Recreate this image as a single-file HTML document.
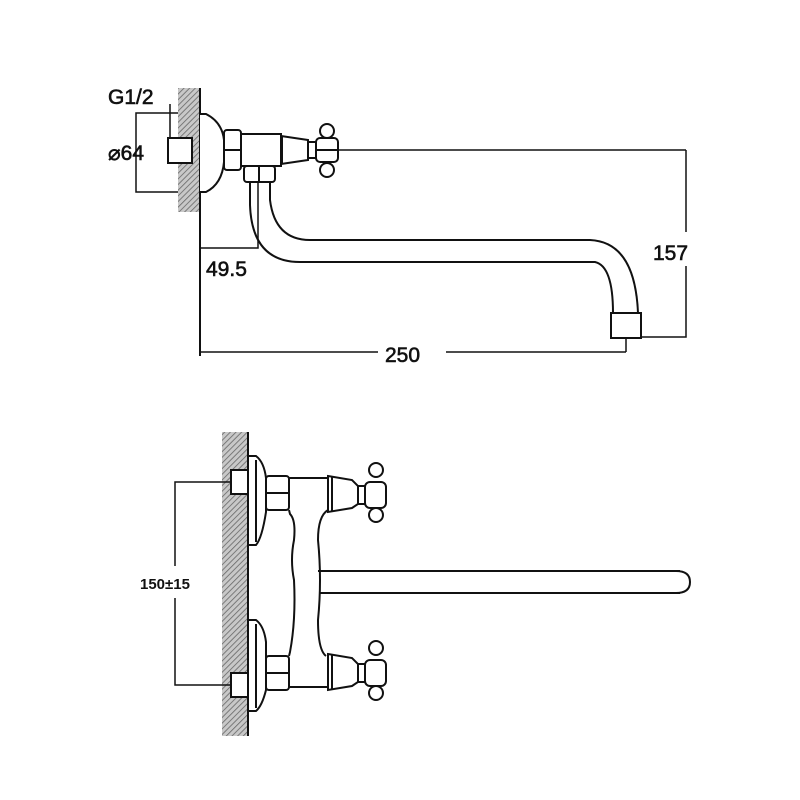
<!DOCTYPE html>
<html><head><style>html,body{margin:0;padding:0;background:#fff}svg{display:block}</style></head><body>
<svg width="800" height="800" viewBox="0 0 800 800" xmlns="http://www.w3.org/2000/svg" font-family="Liberation Sans, sans-serif">
<defs>
<pattern id="h" width="4" height="4" patternUnits="userSpaceOnUse" patternTransform="rotate(45)">
<rect width="4" height="4" fill="#c8c8c8"/><line x1="0" y1="0" x2="0" y2="4" stroke="#666" stroke-width="1.6"/>
</pattern>
</defs>
<g stroke="#111" stroke-width="2" fill="none">
<rect x="178" y="88" width="22" height="124" fill="url(#h)" stroke="none"/>
<line x1="200" y1="88" x2="200" y2="356"/>
<polyline points="178,113 136,113 136,192 178,192" stroke-width="1.5"/>
<line x1="170" y1="104" x2="170" y2="163" stroke-width="1.5"/>
<rect x="168" y="138" width="24" height="25" fill="#fff"/>
<line x1="200" y1="150" x2="686" y2="150" stroke-width="1.5"/>
<line x1="686" y1="150" x2="686" y2="232" stroke-width="1.5"/>
<polyline points="686,266 686,337 641,337" stroke-width="1.5"/>
<line x1="200" y1="352" x2="378" y2="352" stroke-width="1.5"/>
<line x1="446" y1="352" x2="626" y2="352" stroke-width="1.5"/>
<line x1="626" y1="338" x2="626" y2="352" stroke-width="1.5"/>
<polyline points="200,248 258,248 258,180" stroke-width="1.5"/>
<path d="M200,114 L206,114 Q222,122 224,140 L224,162 Q222,184 206,192 L200,192" fill="#fff"/>
<rect x="224" y="130" width="17" height="40" rx="3" fill="#fff"/>
<line x1="224" y1="150" x2="241" y2="150"/>
<rect x="241" y="134" width="40" height="32" fill="#fff"/>
<path d="M281,136 L308,140 L308,160 L281,164" fill="#fff"/>
<line x1="282" y1="136" x2="282" y2="164"/>
<rect x="308" y="142" width="8" height="16" fill="#fff"/>
<circle cx="327" cy="131" r="7" fill="#fff"/>
<circle cx="327" cy="170" r="7" fill="#fff"/>
<rect x="316" y="138" width="22" height="24" rx="4" fill="#fff"/>
<line x1="316" y1="150" x2="338" y2="150"/>
<rect x="244" y="166" width="31" height="16" rx="3" fill="#fff"/>
<line x1="259" y1="166" x2="259" y2="182"/>
<path d="M250,182 L250,205 Q252,262 300,262 L595,262 Q613,266 613,313"/>
<path d="M270,182 L270,200 Q275,240 310,240 L590,240 Q635,242 638,313"/>
<rect x="611" y="313" width="30" height="25" fill="#fff"/>
<rect x="222" y="432" width="26" height="304" fill="url(#h)" stroke="none"/>
<line x1="248" y1="432" x2="248" y2="736"/>
<polyline points="230,482 175,482 175,566" stroke-width="1.5"/>
<polyline points="175,598 175,685 230,685" stroke-width="1.5"/>
<rect x="231" y="470" width="17" height="24" fill="#fff"/>
<rect x="231" y="673" width="17" height="24" fill="#fff"/>
<path d="M248,456 L256,456 Q264,462 266,478 L266,512 Q262,538 256,545 L248,545"/>
<line x1="256" y1="460" x2="256" y2="542"/>
<path d="M248,620 L256,620 Q264,626 266,642 L266,690 Q262,706 256,711 L248,711"/>
<line x1="256" y1="624" x2="256" y2="708"/>
<rect x="266" y="476" width="23" height="34" rx="3" fill="#fff"/>
<line x1="266" y1="493" x2="289" y2="493"/>
<rect x="266" y="656" width="23" height="34" rx="3" fill="#fff"/>
<line x1="266" y1="673" x2="289" y2="673"/>
<path d="M289,478 L328,478 M289,510 L290,514 Q296,520 294,540 Q290,560 294,580 Q296,620 290,652 L289,656 M328,510 Q318,516 318,540 Q322,580 318,620 Q318,650 326,656 M289,687 L328,687"/>
<line x1="318" y1="571" x2="680" y2="571"/>
<line x1="320" y1="593" x2="680" y2="593"/>
<path d="M676,571 Q690,571 690,582 Q690,593 676,593"/>
<path d="M328,476 L352,480 L358,486 L358,504 L352,508 L328,512 Z" fill="#fff"/>
<line x1="332" y1="477" x2="332" y2="511"/>
<rect x="358" y="486" width="8" height="18" fill="#fff"/>
<circle cx="376" cy="470" r="7" fill="#fff"/>
<circle cx="376" cy="515" r="7" fill="#fff"/>
<rect x="365" y="482" width="21" height="26" rx="5" fill="#fff"/>
<path d="M328,654 L352,658 L358,664 L358,682 L352,686 L328,690 Z" fill="#fff"/>
<line x1="332" y1="655" x2="332" y2="689"/>
<rect x="358" y="664" width="8" height="18" fill="#fff"/>
<circle cx="376" cy="648" r="7" fill="#fff"/>
<circle cx="376" cy="693" r="7" fill="#fff"/>
<rect x="365" y="660" width="21" height="26" rx="5" fill="#fff"/>
</g>
<g fill="#111" font-size="21" stroke="#111" stroke-width="0.6">
<text x="108" y="104">G1/2</text>
<text x="108" y="160">⌀64</text>
<text x="206" y="276">49.5</text>
<text x="385" y="362">250</text>
<text x="653" y="260">157</text>
<text x="140" y="589" font-size="15" font-weight="bold" stroke="none">150±15</text>
</g>
</svg>
</body></html>
